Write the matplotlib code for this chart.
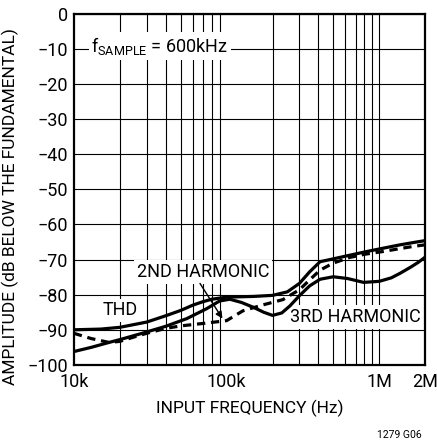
import matplotlib
matplotlib.use("Agg")
import matplotlib.pyplot as plt
from matplotlib.ticker import FixedLocator, NullLocator

# fuente estrecha parecida a la del original
plt.rcParams["font.family"] = ["Roboto", "DejaVu Sans"]
plt.rcParams["mathtext.fontset"] = "custom"
plt.rcParams["mathtext.rm"] = "Roboto"
plt.rcParams["mathtext.it"] = "Roboto"

# datos (Hz, dB)
thd_f = [10e3, 15e3, 20e3, 30e3, 40e3, 50e3, 60e3, 70e3, 80e3, 100e3, 150e3, 200e3,
         250e3, 300e3, 350e3, 410e3, 500e3, 650e3, 830e3, 1.05e6, 1.37e6, 1.7e6, 2e6]
thd_db = [-90.0, -89.8, -89.3, -87.8, -86.0, -84.5, -83.0, -82.0, -81.3, -80.7, -80.5, -80.2,
          -79.2, -76.8, -73.5, -70.6, -69.8, -68.7, -67.7, -66.8, -65.8, -65.1, -64.6]

h2_f = [10e3, 13e3, 17e3, 20e3, 25e3, 30e3, 40e3, 50e3, 70e3, 100e3, 128e3, 170e3,
        234e3, 300e3, 350e3, 410e3, 500e3, 640e3, 800e3, 1.06e6, 1.4e6, 1.7e6, 2e6]
h2_db = [-91.0, -92.5, -93.6, -93.3, -92.0, -91.0, -89.6, -88.9, -88.2, -87.4, -84.6, -83.0,
         -81.4, -78.6, -75.8, -73.0, -71.0, -69.4, -68.5, -67.7, -66.8, -66.2, -65.8]

h3_f = [10e3, 13e3, 17e3, 20e3, 28e3, 40e3, 55e3, 74e3, 90e3, 105e3, 125e3, 150e3,
        175e3, 200e3, 230e3, 260e3, 300e3, 350e3, 410e3, 500e3, 620e3, 790e3, 1e6,
        1.2e6, 1.37e6, 1.6e6, 1.8e6, 2e6]
h3_db = [-96.2, -95.0, -93.6, -92.8, -91.0, -89.0, -86.8, -84.0, -81.8, -81.3, -82.2, -83.6,
         -85.0, -85.9, -85.2, -83.2, -80.3, -77.5, -75.6, -74.9, -75.4, -76.5, -76.2,
         -75.2, -73.9, -72.2, -70.8, -69.3]

x_ticks = [10e3, 100e3, 1e6, 2e6]
x_tick_labels = ["10k", "100k", "1M", "2M"]
y_ticks = list(range(-100, 1, 10))
x_grid = [k * 10**d for d in (4, 5) for k in range(2, 10)] + [1e6, 2e6]

fig = plt.figure(figsize=(4.37, 4.45), dpi=100)
ax = fig.add_axes([0.169, 0.180, 0.804, 0.789])

ax.set_xscale("log")
ax.set_xlim(10e3, 2e6)
ax.set_ylim(-100, 0)

# rejilla dibujada a mano (lineas negras finas)
for xg in x_grid:
    ax.axvline(xg, color="black", lw=0.8, zorder=1)
for yg in y_ticks:
    ax.axhline(yg, color="black", lw=0.8, zorder=1)

ax.plot(thd_f, thd_db, color="black", lw=2.3, zorder=3, solid_capstyle="butt")
ax.plot(h3_f, h3_db, color="black", lw=2.3, zorder=3, solid_capstyle="butt")
ax.plot(h2_f, h2_db, color="black", lw=2.3, ls=(0, (2.6, 1.8)), zorder=3)

ax.xaxis.set_major_locator(FixedLocator(x_ticks))
ax.xaxis.set_minor_locator(NullLocator())
ax.set_xticklabels(x_tick_labels)
ax.set_yticks(y_ticks)
ax.set_yticklabels([("\u2212%d" % -v) if v < 0 else "0" for v in y_ticks])
ax.tick_params(axis="both", length=0, labelsize=13, pad=6)
ax.tick_params(axis="y", pad=4)

for s in ax.spines.values():
    s.set_linewidth(1.6)
    s.set_zorder(4)

ax.set_xlabel("INPUT FREQUENCY (Hz)", fontsize=12.5, labelpad=6)
ax.set_ylabel("AMPLITUDE (dB BELOW THE FUNDAMENTAL)", fontsize=12.5, labelpad=1)
ax.yaxis.set_label_coords(-0.155, 0.45)

box = dict(facecolor="white", edgecolor="none", pad=2)
ax.text(13e3, -9.2, r"f$_{\mathrm{SAMPLE}}$ = 600kHz", fontsize=13, va="center", ha="left",
        bbox=box, zorder=2)
ax.text(20e3, -84.5, "THD", fontsize=13, ha="center", va="center", bbox=box, zorder=2)
ax.text(70e3, -73.5, "2ND HARMONIC", fontsize=13, ha="center", va="center", bbox=box, zorder=2)
ax.text(700e3, -86.3, "3RD HARMONIC", fontsize=13, ha="center", va="center", bbox=box, zorder=2)
ax.annotate("", xy=(94e3, -86.8), xytext=(67e3, -76.8),
            arrowprops=dict(arrowstyle="-|>", color="black", lw=1.0,
                            mutation_scale=10, shrinkA=0, shrinkB=0), zorder=3)

fig.text(0.965, 0.012, "1279 G06", fontsize=7.5, ha="right", va="bottom")

fig.savefig("out.png", dpi=100)
